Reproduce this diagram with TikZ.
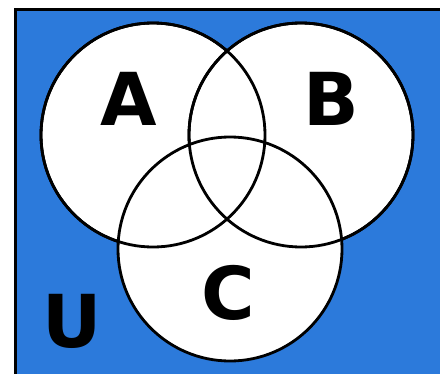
\documentclass[tikz,border=0pt]{standalone}
\usepackage{fontspec}
\setmainfont{DejaVu Sans}
\definecolor{ublue}{HTML}{2C7ADB}
\begin{document}
\begin{tikzpicture}[x=1pt,y=-1pt,
  setc/.style={circle,draw=black,fill=white,line width=2.8pt,minimum size=224pt,inner sep=0pt},
  lbl/.style={font=\fontsize{73}{73}\selectfont\bfseries,inner sep=0pt}]
\useasboundingbox (0,0) rectangle (440,373);
\fill[white] (0,0) rectangle (440,373);
\draw[fill=ublue,line width=3pt] (15.5,9) rectangle (460,400);
\node[setc] (A) at (153,135) {};
\node[setc] (B) at (301,135) {};
\node[setc] (C) at (230,249) {};
\draw[line width=2.8pt] (A.center) circle[radius=112];
\draw[line width=2.8pt] (B.center) circle[radius=112];
\node[lbl] (la) at (129,99) {A};
\node[lbl] (lb) at (331,99) {B};
\node[lbl] (lc) at (228,293) {C};
\node[lbl] (lu) at (72,321) {U};
\end{tikzpicture}
\end{document}
